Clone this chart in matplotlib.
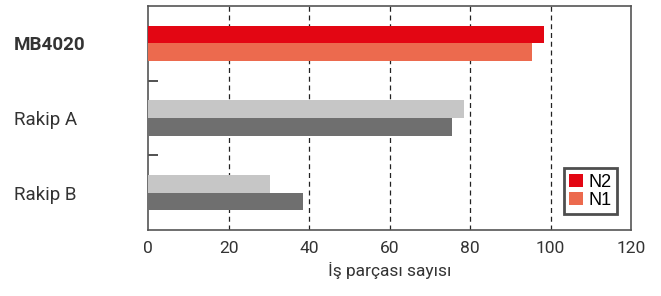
import matplotlib
matplotlib.use("Agg")
import matplotlib.pyplot as plt
from matplotlib.patches import Patch
import numpy as np

categories = ["MB4020", "Rakip A", "Rakip B"]
n2_values = [98.4, 78.5, 30.3]
n1_values = [95.4, 75.5, 38.5]
n2_colors = ["#E30613", "#C6C6C6", "#C6C6C6"]
n1_colors = ["#EC6A4E", "#6F6F6F", "#6F6F6F"]
legend_labels = ["N2", "N1"]
xticks = [0, 20, 40, 60, 80, 100, 120]
xlabel = "İş parçası sayısı"

plt.rcParams['font.family'] = ['Roboto', 'DejaVu Sans']

fig = plt.figure(figsize=(6.61, 2.96), dpi=100)
ax = fig.add_axes([148/661, 66/296, 483/661, 224/296])

y = np.arange(len(categories))
h = 0.235
ax.barh(y - h/2, n2_values, height=h, color=n2_colors, zorder=3)
ax.barh(y + h/2, n1_values, height=h, color=n1_colors, zorder=3)

ax.set_xlim(0, 120)
ax.set_ylim(2.5, -0.5)
ax.set_xticks(xticks)
ax.set_xticklabels([str(t) for t in xticks], fontsize=12.5, color="#333333")
ax.set_yticks(y)
ax.set_yticklabels(categories, fontsize=13.5, color="#333333")
ax.get_yticklabels()[0].set_fontweight("bold")
ax.tick_params(axis='x', length=0, pad=8)
for lbl in ax.get_yticklabels():
    lbl.set_horizontalalignment('left')
ax.tick_params(axis='y', which='major', length=0, pad=134 * 0.72)

ax.set_yticks([0.5, 1.5], minor=True)
ax.tick_params(axis='y', which='minor', direction='in', length=7, width=1.2, color="#333333")

for t in xticks[1:-1]:
    ax.axvline(t, color="#222222", linestyle=(0, (4, 3)), linewidth=0.9, zorder=1)

for s in ax.spines.values():
    s.set_color("#555555")
    s.set_linewidth(1.2)

ax.set_xlabel(xlabel, fontsize=12.5, color="#333333", labelpad=4)

handles = [Patch(facecolor=n2_colors[0]), Patch(facecolor=n1_colors[0])]
leg = ax.legend(handles, legend_labels, loc="lower right", bbox_to_anchor=(0.971, 0.071),
                prop={'family': 'Liberation Sans', 'size': 13}, frameon=True, fancybox=False,
                handlelength=0.75, handleheight=0.75, handletextpad=0.3, labelspacing=0.05,
                borderpad=0.3, borderaxespad=0)
leg.get_frame().set_edgecolor("#222222")
leg.get_frame().set_linewidth(2)

fig.savefig("out.png", dpi=100)
